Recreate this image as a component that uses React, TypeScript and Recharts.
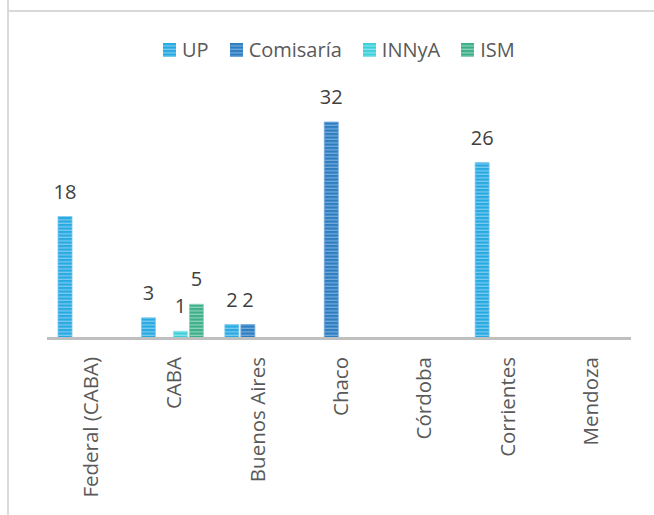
import React from "react";
import { BarChart, Bar, XAxis, YAxis, LabelList } from "recharts";

const categories = ["Federal (CABA)", "CABA", "Buenos Aires", "Chaco", "Córdoba", "Corrientes", "Mendoza"];
const seriesNames = ["UP", "Comisaría", "INNyA", "ISM"];
const upValues = [18, 3, 2, null, null, 26, null];
const comisariaValues = [null, null, 2, 32, null, null, null];
const innyaValues = [null, 1, null, null, null, null, null];
const ismValues = [null, 5, null, null, null, null, null];

const colors = ["#27a9e1", "#2d7dc1", "#3bd0da", "#3caf89"];
const lightColors = ["#7ccaef", "#74aadb", "#8ae3e9", "#8fd1b9"];
const keys = ["up", "comisaria", "innya", "ism"];

const data = categories.map((c, i) => ({
  name: c,
  up: upValues[i],
  comisaria: comisariaValues[i],
  innya: innyaValues[i],
  ism: ismValues[i],
}));

const FONT = "'Open Sans', sans-serif";

const Tick = (props: any) => {
  const { x, y, payload } = props;
  return (
    <text
      x={x + 1}
      y={y}
      transform={`rotate(-90, ${x + 1}, ${y})`}
      textAnchor="end"
      dominantBaseline="central"
      fontFamily={FONT}
      fontSize={20.5}
      fill="#595959"
    >
      {payload.value}
    </text>
  );
};

export default function App() {
  return (
    <div style={{ position: "absolute", left: 0, top: 0, width: 654, height: 515, background: "#fff", overflow: "hidden" }}>
      <svg width={0} height={0} style={{ position: "absolute" }}>
        <defs>
          {keys.map((k, i) => (
            <pattern key={k} id={`pat-${k}`} patternUnits="userSpaceOnUse" width={8} height={3.5}>
              <rect x={0} y={0} width={8} height={3.5} fill={colors[i]} />
              <rect x={0} y={2.2} width={8} height={1.3} fill={lightColors[i]} />
            </pattern>
          ))}
        </defs>
      </svg>
      <div style={{ position: "absolute", left: 7, top: 0, width: 2, height: 515, background: "#d9d9d9" }} />
      <div style={{ position: "absolute", left: 8, top: 10, width: 646, height: 2, background: "#d9d9d9" }} />
      <div
        style={{
          position: "absolute",
          left: 163,
          top: 36,
          display: "flex",
          fontFamily: FONT,
          fontSize: 20,
          color: "#595959",
        }}
      >
        {seriesNames.map((n, i) => (
          <div key={n} style={{ display: "flex", alignItems: "center", marginRight: 21 }}>
            <svg width={13} height={14} style={{ marginRight: 6 }}>
              <rect x={0} y={0} width={13} height={14} fill={`url(#pat-${keys[i]})`} />
            </svg>
            <span style={{ lineHeight: "28px" }}>{n}</span>
          </div>
        ))}
      </div>
      <BarChart
        width={654}
        height={515}
        data={data}
        margin={{ top: 122, right: 23, bottom: 0, left: 47 }}
        barSize={14}
        barGap={2}
      >
        <YAxis hide domain={[0, 32]} />
        <XAxis
          dataKey="name"
          height={177}
          tickLine={false}
          axisLine={false}
          tick={<Tick />}
          tickMargin={13}
          interval={0}
        />
        {keys.map((k, i) => (
          <Bar
            key={k}
            dataKey={k}
            name={seriesNames[i]}
            fill={`url(#pat-${k})`}
            stroke={lightColors[i]}
            strokeWidth={0.8}
            isAnimationActive={false}
          >
            <LabelList
              dataKey={k}
              position="top"
              offset={18}
              fontFamily={FONT}
              fontSize={20}
              fill="#404040"
            />
          </Bar>
        ))}
      </BarChart>
      <div style={{ position: "absolute", left: 47, top: 337, width: 584, height: 3, background: "#bfbfbf" }} />
    </div>
  );
}
